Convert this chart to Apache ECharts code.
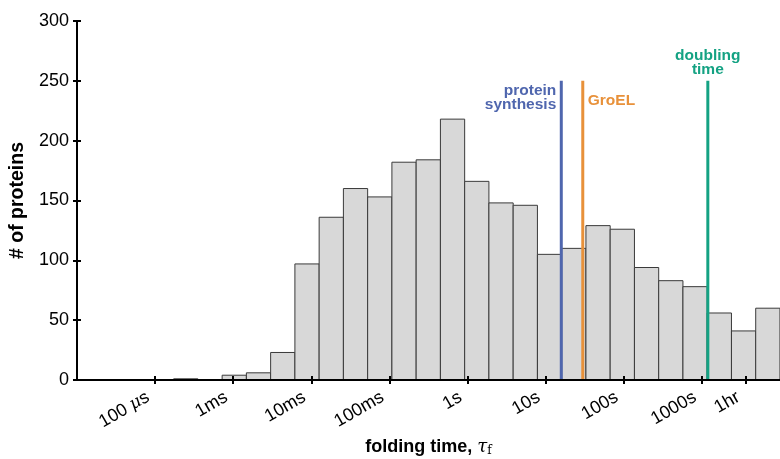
<!DOCTYPE html>
<html>
<head>
<meta charset="utf-8">
<script src="https://cdn.jsdelivr.net/npm/echarts@6/dist/echarts.min.js"></script>
<style>html,body{margin:0;padding:0;background:#fff}#c{width:780px;height:459px}</style>
</head>
<body>
<div id="c"></div>
<script>
// log10(folding time / s) of first bin's left edge, and bin width (decades)
const binStart = -3.763;
const binWidth = 0.3105;
const counts = [1, 0, 4, 6, 23, 97, 136, 160, 153, 182, 184, 218, 166, 148, 146, 105, 110, 129, 126, 94, 83, 78, 56, 41, 60];
// x tick positions (log10 seconds) and labels
const tickValues = [-4, -3, -2, -1, 0, 1, 2, 3, Math.log10(3600)];
const tickLabels = ['100 {mu|μ}s', '1ms', '10ms', '100ms', '1s', '10s', '100s', '1000s', '1hr'];
// marker lines: name, log10 seconds, top value
const markers = [
  {name: 'protein\nsynthesis', x: 1.20, top: 250, color: '#4f66ae', side: 'left'},
  {name: 'GroEL', x: 1.475, top: 250, color: '#e8913a', side: 'right'},
  {name: 'doubling\ntime', x: 3.076, top: 250, color: '#14a283', side: 'top'}
];

const bars = counts.map((c, i) => [binStart + i * binWidth, binStart + (i + 1) * binWidth, c]);

const chart = echarts.init(document.getElementById('c'));
const font = 'Liberation Sans, Arial, sans-serif';

function labelFor(v) {
  for (let i = 0; i < tickValues.length; i++) {
    if (Math.abs(tickValues[i] - v) < 1e-6) return tickLabels[i];
  }
  return '';
}

chart.setOption({
  animation: false,
  grid: {left: 77, right: 0, top: 21, bottom: 79, containLabel: false, outerBoundsMode: 'none'},
  xAxis: [{
    type: 'value', min: -5, max: 4, z: 10,
    splitLine: {show: false},
    axisLine: {show: true, onZero: false, lineStyle: {color: '#000', width: 2}},
    axisTick: {show: true, customValues: tickValues, length: 4, inside: false, lineStyle: {color: '#000', width: 2}},
    axisLabel: {
      show: true, customValues: tickValues, rotate: 30, margin: 12, padding: [0, 8, 0, 0],
      fontFamily: font, fontSize: 18, color: '#000',
      formatter: v => labelFor(v),
      rich: {mu: {fontStyle: 'italic', fontFamily: 'DejaVu Serif, serif', fontSize: 17, color: '#000'}}
    },
    name: '{b|folding time, }{t|τ}{s|f}',
    nameLocation: 'middle', nameGap: 57,
    nameTextStyle: {
      rich: {
        b: {fontFamily: font, fontWeight: 'bold', fontSize: 18, color: '#000'},
        t: {fontFamily: 'DejaVu Serif, serif', fontStyle: 'italic', fontSize: 18, color: '#000'},
        s: {fontFamily: 'DejaVu Serif, serif', fontSize: 12, color: '#000', verticalAlign: 'bottom', padding: [8, 0, 0, 0]}
      }
    }
  }, {
    type: 'value', min: -5, max: 4, position: 'bottom', z: 10,
    splitLine: {show: false},
    axisLine: {show: false, onZero: false},
    axisTick: {show: true, customValues: tickValues, length: 4, inside: true, lineStyle: {color: '#000', width: 2}},
    axisLabel: {show: false}
  }],
  yAxis: [{
    type: 'value', min: 0, max: 300, interval: 50, z: 10,
    splitLine: {show: false},
    axisLine: {show: true, onZero: false, lineStyle: {color: '#000', width: 2}},
    axisTick: {show: true, length: 4, lineStyle: {color: '#000', width: 2}},
    axisLabel: {fontFamily: font, fontSize: 18, color: '#000', margin: 8},
    name: '# of proteins', nameLocation: 'middle', nameGap: 45,
    nameTextStyle: {fontFamily: font, fontWeight: 'bold', fontSize: 19.5, color: '#000'}
  }, {
    type: 'value', min: 0, max: 300, interval: 50, position: 'left', z: 10,
    splitLine: {show: false},
    axisLine: {show: false, onZero: false},
    axisTick: {show: true, length: 4, inside: true, lineStyle: {color: '#000', width: 2}},
    axisLabel: {show: false}
  }],
  series: [{
    type: 'custom',
    xAxisIndex: 0, yAxisIndex: 0,
    data: bars,
    renderItem: function (params, api) {
      const p0 = api.coord([api.value(0), 0]);
      const p1 = api.coord([api.value(1), api.value(2)]);
      return {
        type: 'rect',
        shape: {x: p0[0], y: p1[1], width: p1[0] - p0[0], height: p0[1] - p1[1]},
        style: {fill: '#d8d8d8', stroke: '#3a3a3a', lineWidth: 1}
      };
    },
    z: 2
  }, {
    type: 'custom',
    xAxisIndex: 0, yAxisIndex: 0,
    data: markers.map(m => [m.x, m.top]),
    renderItem: function (params, api) {
      const m = markers[params.dataIndex];
      const b = api.coord([api.value(0), 0]);
      const t = api.coord([api.value(0), api.value(1)]);
      let tx, ty, align, vAlign;
      if (m.side === 'left') { tx = t[0] - 5; ty = t[1] + 3; align = 'right'; vAlign = 'top'; }
      else if (m.side === 'right') { tx = t[0] + 5; ty = t[1] + 20; align = 'left'; vAlign = 'middle'; }
      else { tx = t[0]; ty = t[1] - 4; align = 'center'; vAlign = 'bottom'; }
      return {
        type: 'group',
        children: [{
          type: 'line',
          shape: {x1: b[0], y1: b[1], x2: t[0], y2: t[1]},
          style: {stroke: m.color, lineWidth: 3}
        }, {
          type: 'text',
          x: tx, y: ty,
          style: {
            text: m.name, fill: m.color, fontFamily: font, fontWeight: 'bold',
            fontSize: 15.5, lineHeight: 14, align: align, verticalAlign: vAlign
          }
        }]
      };
    },
    z: 3
  }]
});
</script>
</body>
</html>
